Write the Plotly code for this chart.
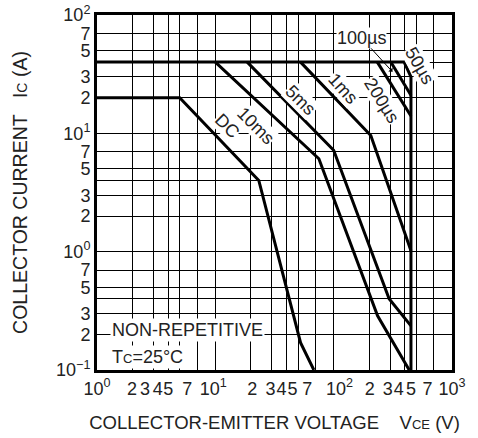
import numpy as np
import plotly.graph_objects as go

# safe operating area, Tc = 25°C
v_dc = [1, 5, 23.3, 52.5, 68]
i_dc = [20, 20, 4.0, 0.17, 0.1]
v_10ms = [10, 75, 235, 435]
i_10ms = [40, 6.1, 0.287, 0.1]
v_5ms = [18.6, 100, 294, 450]
i_5ms = [40, 7.2, 0.40, 0.236]
v_1ms = [52.5, 206, 450]
i_1ms = [40, 9.6, 1.02]
v_200us = [234, 450]
i_200us = [40, 14]
v_100us = [304, 450]
i_100us = [40, 21]
v_50us = [1, 394, 450, 450]
i_50us = [40, 40, 30, 0.1]

# grid lines and tick labels
x_grid = [1, 2, 3, 4, 5, 7, 10, 20, 30, 40, 50, 70, 100, 200, 300, 400, 500, 700, 1000]
x_label_pos = [1, 1.98, 2.55, 3.26, 4.0, 5.8, 9.6, 20.5, 29.2, 36.3, 44.9, 59.8, 112,
               202, 287, 355, 450, 622, 1000]
x_labels = ["10<sup>0</sup>", "2", "3", "4", "5", "7", "10<sup>1</sup>", "2", "3", "4", "5", "7",
            "10<sup>2</sup>", "2", "3", "4", "5", "7", "10<sup>3</sup>"]
y_grid = [0.1, 0.2, 0.3, 0.4, 0.5, 0.7, 1, 2, 3, 4, 5, 7, 10, 20, 30, 40, 50, 70, 100]
y_ticks = [0.1, 0.2, 0.3, 0.5, 0.7, 1, 2, 3, 5, 7, 10, 20, 30, 50, 70, 100]
y_labels = ["10<sup>−1</sup>", "2", "3", "5", "7", "10<sup>0</sup>", "2", "3", "5", "7",
            "10<sup>1</sup>", "2", "3", "5", "7", "10<sup>2</sup>"]

# curve labels: text, V, I, angle
curve_labels = [
    ("DC", 12.6, 11.5, 45),
    ("10ms", 22.1, 11.6, 45),
    ("5ms", 52.5, 19.3, 45),
    ("1ms", 121, 23.8, 48),
    ("200µs", 252, 19, 58),
    ("50µs", 535, 37.3, 60),
]

sub = "<span style='font-size:{}px'>{}</span>"

fig = go.Figure()
for v, i in [(v_dc, i_dc), (v_10ms, i_10ms), (v_5ms, i_5ms), (v_1ms, i_1ms),
             (v_200us, i_200us), (v_100us, i_100us), (v_50us, i_50us)]:
    fig.add_trace(go.Scatter(x=v, y=i, mode="lines", line=dict(color="black", width=3),
                             hoverinfo="skip"))

for txt, v, i, ang in curve_labels:
    fig.add_annotation(x=np.log10(v), y=np.log10(i), text=txt, textangle=ang,
                       showarrow=False, bgcolor="white", borderpad=0,
                       font=dict(size=18))

fig.add_annotation(x=np.log10(314), y=np.log10(33.1), text="100µs", ax=-31, ay=-34,
                   showarrow=True, arrowhead=1, arrowsize=1, arrowwidth=1,
                   arrowcolor="black", bgcolor="white", borderpad=0, font=dict(size=18))

fig.add_annotation(x=0.11, y=-0.661, text="NON-REPETITIVE", xanchor="left",
                   showarrow=False, bgcolor="white", borderpad=1, font=dict(size=18))
fig.add_annotation(x=0.11, y=-0.89, text="T" + sub.format(13, "C") + "=25°C", xanchor="left",
                   showarrow=False, bgcolor="white", borderpad=1, font=dict(size=18))

fig.update_layout(
    width=478,
    height=438,
    margin=dict(l=97, r=26, t=15, b=68, autoexpand=False),
    plot_bgcolor="white",
    paper_bgcolor="white",
    showlegend=False,
    font=dict(family="Liberation Sans, Arial, sans-serif", size=18, color="#222"),
    xaxis=dict(
        type="log",
        range=[0, 3],
        tickmode="array",
        tickvals=x_label_pos,
        ticktext=x_labels,
        tickangle=0,
        ticks="",
        automargin=False,
        showgrid=False,
        minor=dict(tickmode="array", tickvals=x_grid, showgrid=True,
                   gridcolor="black", gridwidth=1.4, ticks=""),
        showline=True,
        linewidth=3,
        linecolor="black",
        mirror=True,
        zeroline=False,
        title=dict(text="COLLECTOR-EMITTER VOLTAGE\u00a0\u00a0\u00a0\u00a0V" + sub.format(13, "CE") + " (V)",
                   standoff=19, font=dict(size=18.5)),
    ),
    yaxis=dict(
        type="log",
        range=[-1, 2],
        tickmode="array",
        tickvals=y_ticks,
        ticktext=y_labels,
        ticks="",
        automargin=False,
        showgrid=True,
        gridcolor="black",
        gridwidth=1.4,
        minor=dict(tickmode="array", tickvals=y_grid, showgrid=True,
                   gridcolor="black", gridwidth=1.4, ticks=""),
        showline=True,
        linewidth=3,
        linecolor="black",
        mirror=True,
        zeroline=False,
        title=dict(text="COLLECTOR CURRENT\u00a0\u00a0\u00a0I" + sub.format(14, "C") + " (A)",
                   standoff=24, font=dict(size=19.5)),
    ),
)

# drop the browser's default 8px page margin so the figure sits at the top-left corner
fig.write_html("out.html", config={"displayModeBar": False},
               post_script="document.body.style.margin='0px';")
